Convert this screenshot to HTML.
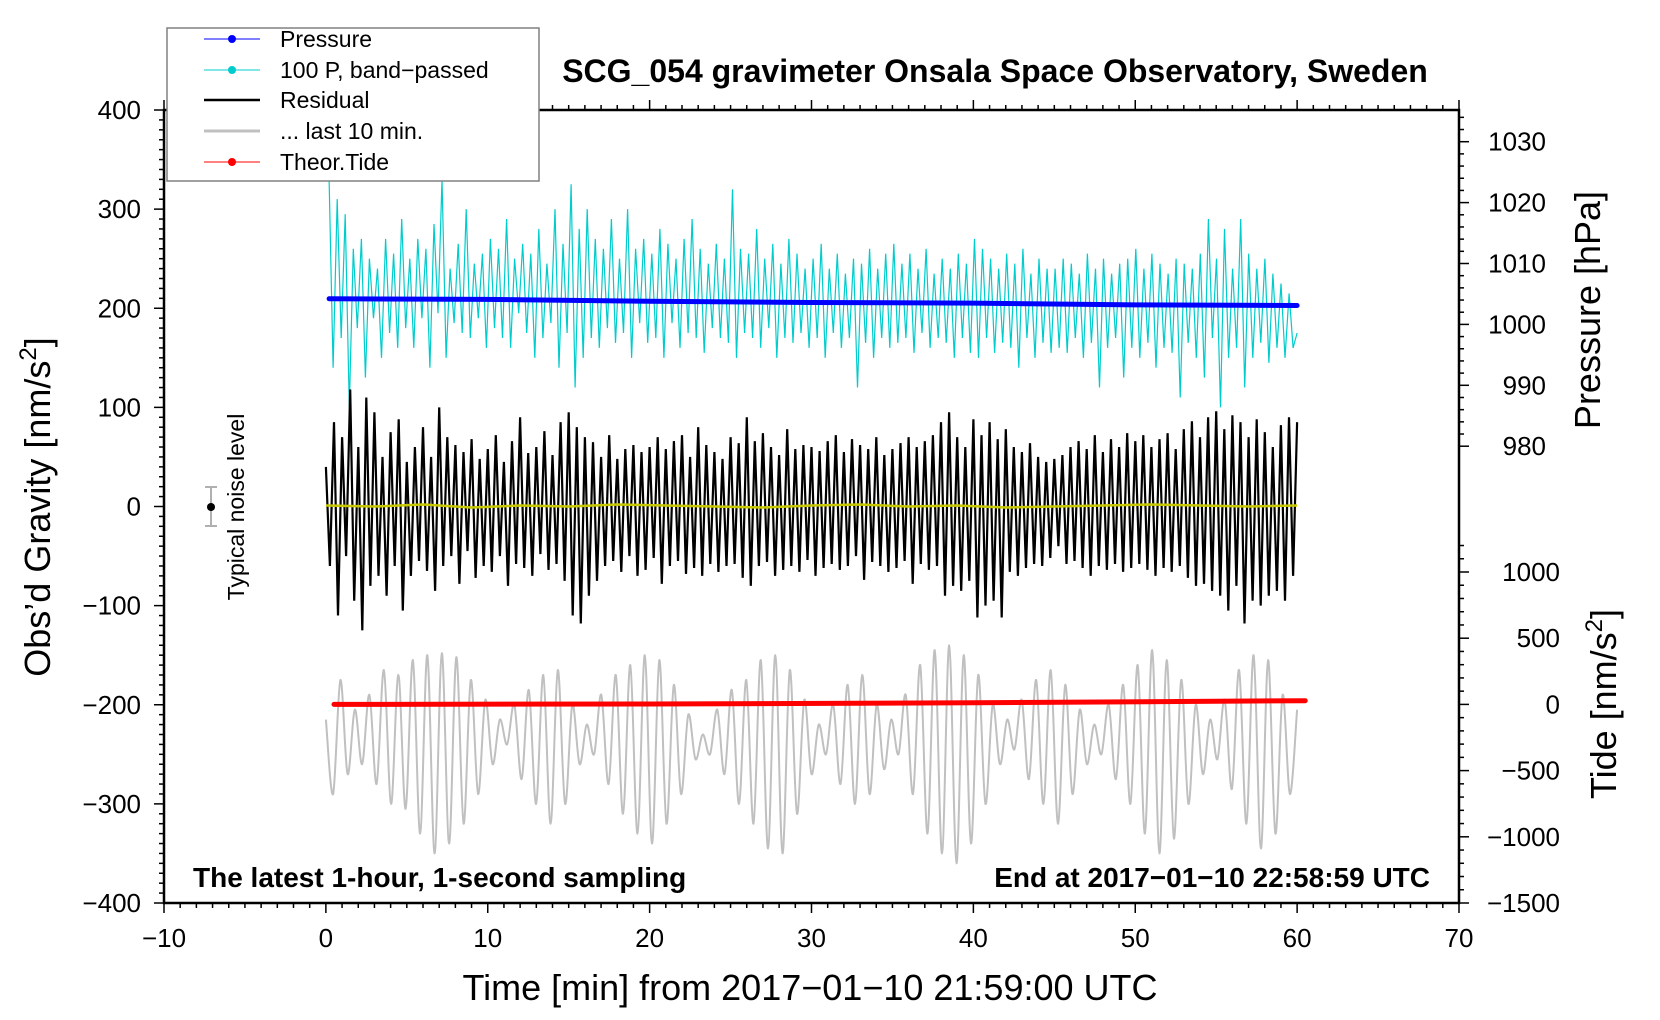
<!DOCTYPE html>
<html><head><meta charset="utf-8"><style>
body{margin:0;background:#fff}
svg{display:block;font-family:"Liberation Sans",sans-serif}
</style></head><body>
<svg id="chart" width="1660" height="1020" viewBox="0 0 1660 1020">
<g id="plot"></g>
<g id="axes"></g>
<text x="995" y="82" font-size="32" font-weight="bold" text-anchor="middle">SCG_054 gravimeter Onsala Space Observatory, Sweden</text>
<text x="810" y="1000" font-size="36" text-anchor="middle">Time [min] from 2017−01−10 21:59:00 UTC</text>
<text transform="translate(50,507) rotate(-90)" font-size="36" text-anchor="middle">Obs’d Gravity [nm/s<tspan font-size="24" dy="-14">2</tspan><tspan dy="14">]</tspan></text>
<text transform="translate(1600,310) rotate(-90)" font-size="36" text-anchor="middle">Pressure [hPa]</text>
<text transform="translate(1616,704) rotate(-90)" font-size="36" text-anchor="middle">Tide [nm/s<tspan font-size="24" dy="-14">2</tspan><tspan dy="14">]</tspan></text>
<text x="193" y="887" font-size="28" font-weight="bold">The latest 1-hour, 1-second sampling</text>
<text x="1430" y="887" font-size="28" font-weight="bold" text-anchor="end">End at 2017−01−10 22:58:59 UTC</text>
<g>
<line x1="211" y1="487" x2="211" y2="526" stroke="#b0b0b0" stroke-width="2"/>
<line x1="205" y1="487" x2="217" y2="487" stroke="#b0b0b0" stroke-width="2"/>
<line x1="205" y1="526" x2="217" y2="526" stroke="#b0b0b0" stroke-width="2"/>
<circle cx="211" cy="507" r="4" fill="#000"/>
<text transform="translate(244,507) rotate(-90)" font-size="23" text-anchor="middle">Typical noise level</text>
</g>
<g>
<rect x="167" y="28" width="372" height="153" fill="#fff" stroke="#808080" stroke-width="1.5"/>
<g><line x1="204" y1="39" x2="260" y2="39" stroke="#0000ff" stroke-width="1"/><circle cx="232" cy="39" r="4" fill="#0000ff"/><text x="280" y="47" font-size="23">Pressure</text></g>
<g><line x1="204" y1="70" x2="260" y2="70" stroke="#00cccc" stroke-width="1"/><circle cx="232" cy="70" r="4" fill="#00cccc"/><text x="280" y="78" font-size="23">100 P, band−passed</text></g>
<g><line x1="204" y1="100" x2="260" y2="100" stroke="#000" stroke-width="2.5"/><text x="280" y="108" font-size="23">Residual</text></g>
<g><line x1="204" y1="131" x2="260" y2="131" stroke="#c0c0c0" stroke-width="3"/><text x="280" y="139" font-size="23">... last 10 min.</text></g>
<g><line x1="204" y1="162" x2="260" y2="162" stroke="#ff0000" stroke-width="1"/><circle cx="232" cy="162" r="4" fill="#ff0000"/><text x="280" y="170" font-size="23">Theor.Tide</text></g>
</g>
</svg>
<script>
const residual=[40,-60,85,-110,70,-50,118,-95,60,-125,110,-80,95,-70,50,-90,75,-60,88,-105,
45,-70,60,-55,80,-65,50,-85,100,-60,70,-50,62,-78,55,-45,68,-72,48,-60,
58,-66,72,-50,45,-80,66,-58,90,-62,54,-70,60,-48,76,-64,52,-58,85,-75,
95,-110,80,-118,70,-90,65,-75,50,-60,72,-55,48,-66,58,-50,62,-70,55,-64,
60,-52,70,-78,58,-60,66,-55,72,-68,50,-62,80,-70,62,-58,55,-66,48,-60,
70,-58,64,-72,90,-80,66,-60,74,-56,60,-70,52,-64,78,-60,58,-66,62,-54,
60,-70,56,-62,66,-58,72,-64,55,-60,68,-50,62,-74,58,-56,70,-60,52,-66,
58,-62,64,-55,70,-78,60,-58,66,-64,72,-60,85,-90,95,-80,70,-85,60,-75,
88,-112,72,-100,85,-95,68,-112,78,-66,60,-70,55,-62,64,-58,50,-60,45,-52,
48,-40,52,-58,60,-55,66,-62,58,-70,72,-60,55,-64,68,-58,60,-66,74,-62,
66,-58,72,-64,60,-70,68,-62,74,-66,58,-60,78,-72,86,-80,70,-78,90,-85,
96,-90,78,-105,92,-80,85,-118,70,-95,88,-100,75,-90,60,-85,82,-95,90,-70,85];
const bandPassed=[330,140,310,170,295,100,260,180,270,130,250,190,240,150,270,175,255,160,290,180,
250,160,270,190,260,140,285,195,330,150,240,185,265,175,300,170,245,190,255,160,
270,180,260,170,290,160,250,195,265,175,255,150,280,170,245,185,300,140,265,175,
325,120,280,150,300,170,270,160,260,180,290,165,250,175,300,150,260,185,270,165,
255,170,280,150,265,185,250,160,270,175,290,170,260,155,245,180,265,170,250,165,
320,150,260,175,255,170,280,160,250,180,265,150,245,170,270,165,255,175,240,160,
250,170,265,150,240,175,255,160,235,170,250,120,245,165,260,150,240,170,255,160,
265,165,245,170,255,155,240,175,260,160,235,170,250,165,240,150,255,170,245,155,
270,150,260,170,250,155,240,165,255,160,245,140,260,170,235,150,250,165,240,155,
240,160,250,155,245,170,235,150,255,165,240,120,250,160,235,170,245,130,250,160,
260,150,240,165,255,140,245,160,235,155,250,110,245,165,240,150,255,130,290,170,
250,100,280,150,240,160,290,120,255,150,240,165,250,145,235,160,225,150,215,160,175];
const last10=[-215,-290,-175,-270,-205,-260,-190,-280,-165,-300,-170,-305,-155,-330,-150,-350,-148,-340,-152,-320,
-175,-290,-195,-260,-215,-240,-200,-275,-185,-300,-170,-320,-165,-300,-200,-260,-220,-250,-190,-280,
-170,-310,-160,-330,-150,-340,-155,-320,-180,-290,-210,-255,-230,-250,-205,-270,-185,-300,-175,-320,
-155,-345,-150,-350,-165,-310,-195,-270,-220,-250,-200,-280,-180,-300,-170,-290,-200,-265,-215,-250,
-190,-290,-160,-330,-145,-350,-140,-360,-150,-340,-170,-300,-200,-260,-215,-245,-195,-275,-175,-300,
-165,-320,-180,-290,-205,-260,-220,-250,-200,-275,-180,-300,-160,-330,-145,-350,-155,-335,-175,-300,
-200,-270,-215,-255,-195,-285,-165,-320,-150,-345,-155,-330,-190,-290,-205];
const filtered=[1,0,2,-1,1,0,2,1,0,-1,1,2,0,1,-1,0,1,2,1,0,1];
const pressureTimes=[0.2,10,20,30,40,50,60];
const pressureHPa=[1004.2,1004.1,1003.8,1003.6,1003.5,1003.2,1003.1];
const tideTimes=[0.5,20,40,60.5];
const tideValues=[0,3,12,28];
const xTicks=[-10,0,10,20,30,40,50,60,70];
const yTicks=[400,300,200,100,0,-100,-200,-300,-400];
const pTicks=[1030,1020,1010,1000,990,980];
const tTicks=[1000,500,0,-500,-1000,-1500];

const NS='http://www.w3.org/2000/svg';
const X0=164,X1=1459,Y0=110,Y1=903;
const xs=t=>X0+(t+10)/80*(X1-X0);
const ys=v=>Y0+(400-v)/800*(Y1-Y0);
const ps=p=>141.7+(1030-p)*6.09;
const ts=v=>704.4-v*0.1324;
const plot=document.getElementById('plot'),axes=document.getElementById('axes');
function mk(tag,attrs,parent){const e=document.createElementNS(NS,tag);for(const k in attrs)e.setAttribute(k,attrs[k]);parent.appendChild(e);return e;}
function series(vals,t0,t1,scale,stroke,w,name){
  const n=vals.length;const pts=vals.map((v,i)=>xs(t0+(t1-t0)*i/(n-1)).toFixed(1)+','+scale(v).toFixed(1)).join(' ');
  const e=mk('polyline',{points:pts,fill:'none',stroke:stroke,'stroke-width':w,'stroke-linejoin':'miter'},plot);
  
  
}
function smooth(vals,t0,t1,scale,stroke,w,name){
  const n=vals.length;const P=vals.map((v,i)=>[xs(t0+(t1-t0)*i/(n-1)),scale(v)]);
  let d='M'+P[0][0].toFixed(1)+','+P[0][1].toFixed(1);
  for(let i=0;i<n-1;i++){const p0=P[Math.max(i-1,0)],p1=P[i],p2=P[i+1],p3=P[Math.min(i+2,n-1)];
    const c1=[p1[0]+(p2[0]-p0[0])/6,p1[1]+(p2[1]-p0[1])/6],c2=[p2[0]-(p3[0]-p1[0])/6,p2[1]-(p3[1]-p1[1])/6];
    d+=' C'+c1.map(v=>v.toFixed(1))+' '+c2.map(v=>v.toFixed(1))+' '+p2.map(v=>v.toFixed(1));}
  const e=mk('path',{d:d,fill:'none',stroke:stroke,'stroke-width':w},plot);
  
  
}
function series2(tx,vals,scale,stroke,w,name){
  const pts=vals.map((v,i)=>xs(tx[i]).toFixed(1)+','+scale(v).toFixed(1)).join(' ');
  const e=mk('polyline',{points:pts,fill:'none',stroke:stroke,'stroke-width':w,'stroke-linecap':'round'},plot);
  
  
}
series(bandPassed,0.2,60,ys,'#00cccc',1.2,'bandpassed-pressure-line');
series(residual,0,60,ys,'#000',2.2,'residual-line');
series(filtered,0,60,ys,'#c8c800',2.5,'filtered-residual-line');
smooth(last10,0,60,ys,'#c0c0c0',2,'last-10-min-line');
series2(pressureTimes,pressureHPa,ps,'#0000ff',5,'pressure-line');
series2(tideTimes,tideValues,ts,'#ff0000',5,'theor-tide-line');

mk('rect',{x:X0,y:Y0,width:X1-X0,height:Y1-Y0,fill:'none',stroke:'#000','stroke-width':2.5},axes);
for(let t=-10;t<=70;t++){const x=xs(t);const L=t%10===0?10:5;
  mk('line',{x1:x,x2:x,y1:Y1,y2:Y1+L,stroke:'#000','stroke-width':1.5},axes);
  mk('line',{x1:x,x2:x,y1:Y0,y2:Y0-L,stroke:'#000','stroke-width':1.5},axes);}
xTicks.forEach(t=>{const e=mk('text',{x:xs(t),y:Y1+44,'font-size':26,'text-anchor':'middle'},axes);e.textContent=String(t).replace('-','−');
  
  });
for(let v=-400;v<=400;v+=10){const y=ys(v);const L=v%100===0?10:5;
  mk('line',{x1:X0,x2:X0-L,y1:y,y2:y,stroke:'#000','stroke-width':1.5},axes);}
yTicks.forEach(v=>{const e=mk('text',{x:141,y:ys(v)+9,'font-size':26,'text-anchor':'end'},axes);e.textContent=String(v).replace('-','−');
  
  });
for(let p=980;p<=1034;p+=2){const y=ps(p);const L=p%10===0?10:5;
  mk('line',{x1:X1,x2:X1+L,y1:y,y2:y,stroke:'#000','stroke-width':1.5},axes);}
pTicks.forEach(p=>{const e=mk('text',{x:1546,y:ps(p)+9,'font-size':26,'text-anchor':'end'},axes);e.textContent=p;
  
  });
for(let v=-1500;v<=1200;v+=100){const y=ts(v);const L=v%500===0?10:5;
  mk('line',{x1:X1,x2:X1+L,y1:y,y2:y,stroke:'#000','stroke-width':1.5},axes);}
tTicks.forEach(v=>{const e=mk('text',{x:1560,y:ts(v)+9,'font-size':26,'text-anchor':'end'},axes);e.textContent=String(v).replace('-','−');
  
  });
</script>
</body></html>
